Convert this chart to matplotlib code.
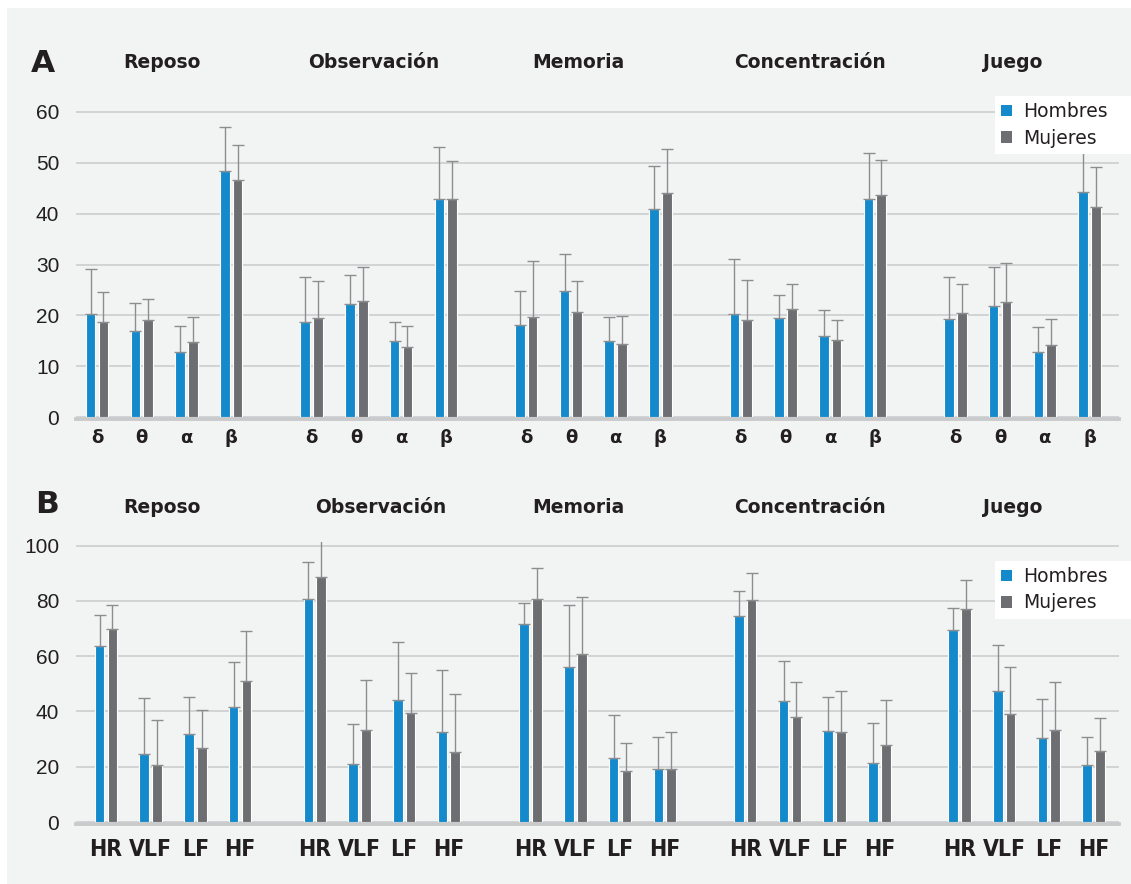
import numpy as np
import matplotlib.pyplot as plt
from matplotlib import font_manager
from matplotlib.patches import Patch, Rectangle

# Conditions and measures
conditions = ["Reposo", "Observación", "Memoria", "Concentración", "Juego"]
eeg_bands = ["δ", "θ", "α", "β"]
hrv_measures = ["HR", "VLF", "LF", "HF"]

# A: EEG band power (%), mean and SD per condition (rows) and band (cols)
eeg_men_mean = [
    [20.2, 17.0, 12.8, 48.3],
    [18.7, 22.3, 15.0, 42.9],
    [18.2, 24.9, 14.9, 40.9],
    [20.2, 19.6, 16.0, 42.8],
    [19.4, 21.9, 12.9, 44.3],
]
eeg_men_sd = [
    [9.0, 5.5, 5.1, 8.8],
    [8.9, 5.7, 3.8, 10.1],
    [6.6, 7.2, 4.8, 8.5],
    [10.9, 4.4, 5.0, 9.1],
    [8.2, 7.6, 4.8, 9.0],
]
eeg_women_mean = [
    [18.8, 19.1, 14.7, 46.7],
    [19.6, 22.8, 13.8, 42.9],
    [19.8, 20.7, 14.4, 44.1],
    [19.1, 21.2, 15.1, 43.6],
    [20.5, 22.7, 14.3, 41.3],
]
eeg_women_sd = [
    [5.8, 4.1, 5.1, 6.8],
    [7.1, 6.7, 4.1, 7.4],
    [11.0, 6.0, 5.5, 8.6],
    [7.8, 5.0, 4.0, 7.0],
    [5.6, 7.6, 5.0, 7.9],
]

# B: heart rate variability measures
hrv_men_mean = [
    [63.6, 24.6, 31.7, 41.5],
    [80.9, 21.0, 44.1, 32.7],
    [71.5, 56.1, 23.3, 19.1],
    [74.4, 43.9, 33.1, 21.2],
    [69.6, 47.4, 30.4, 20.5],
]
hrv_men_sd = [
    [11.2, 20.4, 13.7, 16.4],
    [13.2, 14.5, 20.9, 22.3],
    [7.8, 22.4, 15.3, 11.8],
    [9.1, 14.2, 12.3, 14.5],
    [7.8, 16.8, 14.1, 10.1],
]
hrv_women_mean = [
    [69.7, 20.6, 26.9, 50.9],
    [88.7, 33.3, 39.6, 25.5],
    [80.7, 60.7, 18.6, 19.1],
    [80.3, 37.9, 32.7, 27.9],
    [77.1, 39.1, 33.3, 25.6],
]
hrv_women_sd = [
    [8.9, 16.2, 13.8, 18.1],
    [15.0, 18.0, 14.2, 20.8],
    [11.2, 20.7, 10.0, 13.6],
    [9.7, 12.6, 14.6, 16.1],
    [10.6, 17.0, 17.4, 12.2],
]

BLUE = "#1489cb"
GREY = "#6d6e71"
ERR = "#8c8d8f"
GRID = "#c8cacb"
BG = "#f2f4f3"
INK = "#231f20"

W, H = 1131, 884
GROUP_STEP = 4.8
BAR_W = 0.215
OFFSET = 0.143


def narrow_bold_font(size):
    """Look for an installed condensed/narrow bold face, else a plain bold one."""
    for f in font_manager.fontManager.ttflist:
        name = f.name.lower()
        narrow = ("narrow" in name or "condensed" in name
                  or f.stretch in ("condensed", "semi-condensed", 75, 87.5))
        bold = f.weight in ("bold", 700, "heavy", 800)
        if narrow and bold and "mono" not in name and "serif" not in name:
            return font_manager.FontProperties(fname=f.fname, size=size)
    return font_manager.FontProperties(family="Liberation Sans",
                                       weight="bold", size=size - 2)


def draw_panel(ax, men, men_sd, women, women_sd, ticklabels, ymax, yticks,
               group_shift, tick_font):
    men = np.asarray(men)
    women = np.asarray(women)
    men_sd = np.asarray(men_sd)
    women_sd = np.asarray(women_sd)

    xs, labels = [], []
    for g in range(len(conditions)):
        for i in range(len(ticklabels)):
            xs.append(g * GROUP_STEP + i + group_shift[g])
            labels.append(ticklabels[i])
    xs = np.array(xs)

    m, w = men.ravel(), women.ravel()
    ms, ws = men_sd.ravel(), women_sd.ravel()
    zeros = np.zeros_like(m)

    ax.bar(xs - OFFSET, m, BAR_W, color=BLUE, edgecolor="white",
           linewidth=0.8, zorder=3, label="Hombres")
    ax.bar(xs + OFFSET, w, BAR_W, color=GREY, edgecolor="white",
           linewidth=0.8, zorder=3, label="Mujeres")
    ax.errorbar(xs - OFFSET, m, yerr=[zeros, ms], fmt="none", ecolor=ERR,
                elinewidth=1.0, capsize=4, capthick=1.0, zorder=4)
    ax.errorbar(xs + OFFSET, w, yerr=[zeros, ws], fmt="none", ecolor=ERR,
                elinewidth=1.0, capsize=4, capthick=1.0, zorder=4)

    ax.set_facecolor(BG)
    ax.set_xlim(-0.47, 22.86)
    ax.set_ylim(0, ymax)
    ax.set_yticks(yticks)
    ax.yaxis.grid(True, color=GRID, linewidth=1.1)
    ax.set_axisbelow(True)
    for side in ("top", "right", "left"):
        ax.spines[side].set_visible(False)
    ax.spines["bottom"].set_color(GRID)
    ax.spines["bottom"].set_linewidth(2.8)
    ax.spines["bottom"].set_position(("outward", 1.5))

    ax.set_xticks(xs)
    ax.set_xticklabels(labels, **tick_font)
    ax.tick_params(axis="x", length=0, pad=7, colors=INK)
    ax.tick_params(axis="y", length=0, pad=12, colors=INK)
    for t in ax.get_yticklabels():
        t.set_fontfamily("Liberation Sans")
        t.set_fontsize(15)


fig = plt.figure(figsize=(W / 100, H / 100), dpi=100)
fig.patch.set_facecolor("white")
fig.add_artist(Rectangle((7 / W, 0), 1 - 7 / W, 1 - 8 / H,
                         transform=fig.transFigure, facecolor=BG,
                         edgecolor="none", zorder=-10))

left, width = 76 / W, (1119 - 76) / W

ax_a = fig.add_axes([left, (H - 417.3) / H, width, (417.3 - 91.5) / H])
draw_panel(ax_a, eeg_men_mean, eeg_men_sd, eeg_women_mean, eeg_women_sd,
           eeg_bands, 64, range(0, 61, 10), [0, 0, 0, 0, 0],
           dict(fontfamily="DejaVu Sans", fontweight="bold", fontsize=13))

ax_b = fig.add_axes([left, (H - 822) / H, width, (822 - 541.6) / H])
draw_panel(ax_b, hrv_men_mean, hrv_men_sd, hrv_women_mean, hrv_women_sd,
           hrv_measures, 101.5, range(0, 101, 20), [0.2, 0.07, 0.1, 0.1, 0.09],
           dict(fontproperties=narrow_bold_font(16.5)))
ax_b.tick_params(axis="x", pad=10)

# panel letters and condition headings
title_x_a = [162, 374, 578, 810, 1013]
title_x_b = [162, 381, 578, 810, 1013]
fig.text(43 / W, 1 - 71.5 / H, "A", fontsize=22.5, fontweight="bold",
         color=INK, ha="center", va="baseline")
fig.text(47 / W, 1 - 513 / H, "B", fontsize=22.5, fontweight="bold",
         color=INK, ha="center", va="baseline")
for name, xa, xb in zip(conditions, title_x_a, title_x_b):
    fig.text(xa / W, 1 - 68.5 / H, name, fontsize=13.5, fontweight="bold",
             color=INK, ha="center", va="baseline")
    fig.text(xb / W, 1 - 513 / H, name, fontsize=13.5, fontweight="bold",
             color=INK, ha="center", va="baseline")

# legends run out to the right edge of the figure
handles = [Patch(facecolor=BLUE, edgecolor="none", label="Hombres"),
           Patch(facecolor=GREY, edgecolor="none", label="Mujeres")]
for top in (96, 561):
    leg = fig.legend(handles=handles, loc="upper left", mode="expand",
                     bbox_to_anchor=(995 / W, 1 - (top + 60) / H,
                                     (W - 995) / W, 60 / H),
                     frameon=True, fancybox=False, framealpha=1,
                     facecolor="white", edgecolor="none", fontsize=13.5,
                     handlelength=0.58, handleheight=0.58, handletextpad=0.6,
                     labelspacing=0.4, borderpad=0.32, borderaxespad=0)
    for t in leg.get_texts():
        t.set_color(INK)

fig.savefig("out.png", dpi=100, facecolor="white")
